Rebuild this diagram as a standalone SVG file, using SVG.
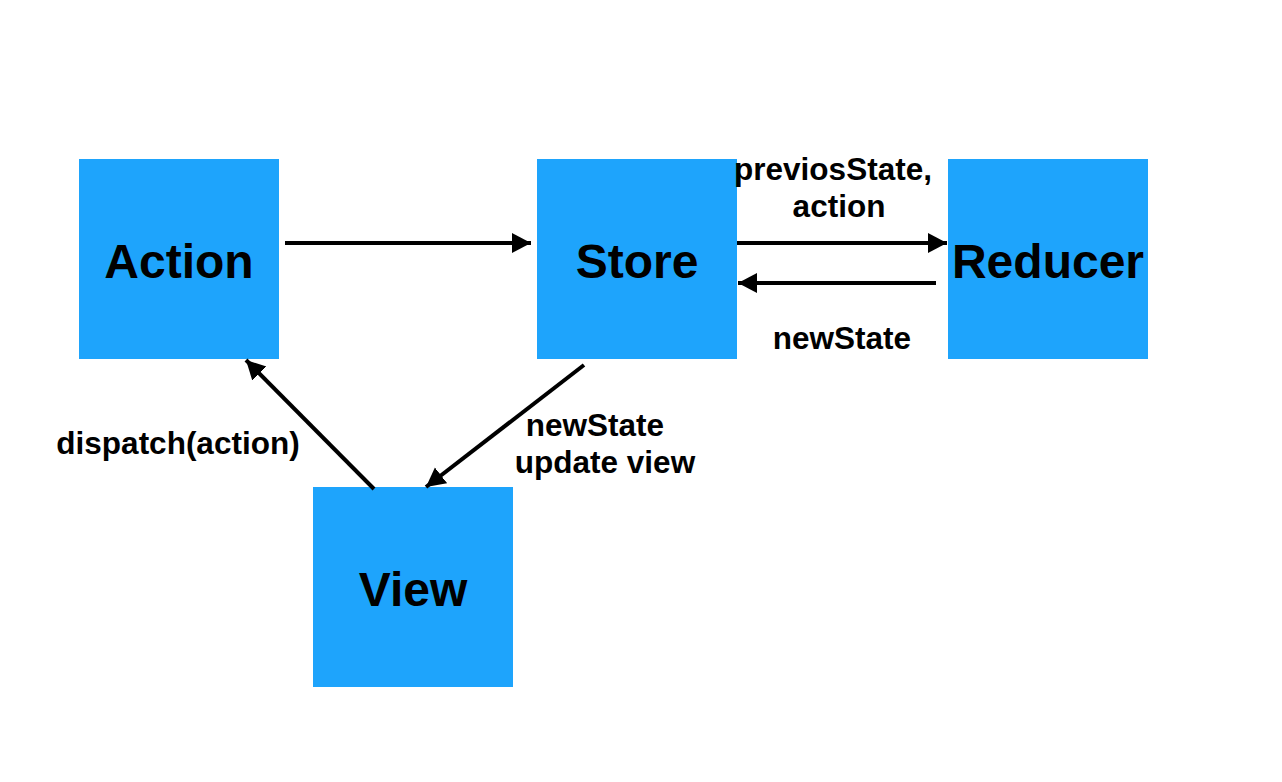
<svg xmlns="http://www.w3.org/2000/svg" width="1282" height="782" viewBox="0 0 1282 782">
<style>
.box{fill:#1EA4FC}
.nt{font-family:"Liberation Sans",Arial,sans-serif;font-weight:bold;font-size:48px;fill:#000;text-anchor:middle}
.lb{font-family:"Liberation Sans",Arial,sans-serif;font-weight:bold;font-size:31.5px;fill:#000;text-anchor:middle}
.ln{stroke:#000;stroke-width:4;fill:none;marker-end:url(#ah)}
</style>
<defs>
<marker id="ah" markerUnits="userSpaceOnUse" markerWidth="22" markerHeight="22" refX="19" refY="10" orient="auto">
<path d="M0,0 L19,10 L0,20 Z" fill="#000"/>
</marker>
</defs>
<rect width="1282" height="782" fill="#fff"/>
<g id="action"><rect class="box" x="79" y="159" width="200" height="200"/><text class="nt" x="179" y="278">Action</text></g>
<g id="store"><rect class="box" x="537" y="159" width="200" height="200"/><text class="nt" x="637" y="278">Store</text></g>
<g id="reducer"><rect class="box" x="948" y="159" width="200" height="200"/><text class="nt" x="1048" y="278">Reducer</text></g>
<g id="view"><rect class="box" x="313" y="487" width="200" height="200"/><text class="nt" x="413" y="606">View</text></g>
<g id="connectors">
<line class="ln" x1="285" y1="243" x2="531" y2="243"/>
<line class="ln" x1="737" y1="243" x2="947" y2="243"/>
<line class="ln" x1="936" y1="283" x2="738" y2="283"/>
<line class="ln" x1="584" y1="365" x2="426" y2="487"/>
<line class="ln" x1="374" y1="489" x2="246" y2="360"/>
</g>
<g id="labels">
<text class="lb" x="833" y="180">previosState,</text>
<text class="lb" x="839" y="217">action</text>
<text class="lb" x="842" y="349">newState</text>
<text class="lb" x="178" y="454">dispatch(action)</text>
<text class="lb" x="595" y="436">newState</text>
<text class="lb" x="605" y="473">update view</text>
</g>
</svg>
